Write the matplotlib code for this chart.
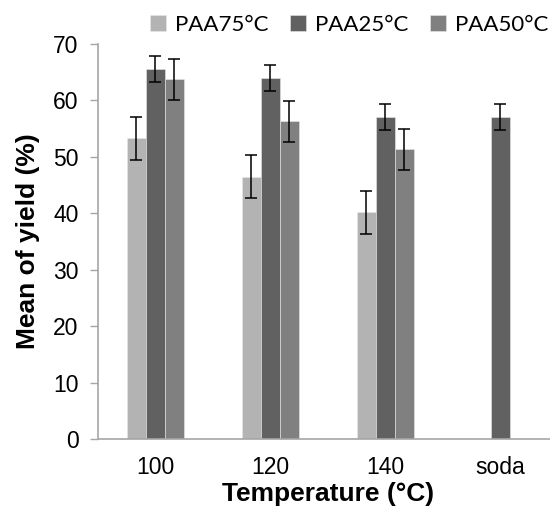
import numpy as np
import matplotlib.pyplot as plt

# data
categories = ['100', '120', '140', 'soda']
series = ['PAA75°C', 'PAA25°C', 'PAA50°C']
paa75 = [53.3, 46.5, 40.2, np.nan]
paa75_err = [3.8, 3.8, 3.8, np.nan]
paa25 = [65.5, 64.0, 57.0, 57.0]
paa25_err = [2.3, 2.3, 2.3, 2.3]
paa50 = [63.7, 56.3, 51.3, np.nan]
paa50_err = [3.6, 3.6, 3.6, np.nan]
colors = ['#b3b3b3', '#616161', '#808080']

fig = plt.figure(figsize=(5.5, 5.16), dpi=100)
ax = fig.add_axes([0.178, 0.149, 0.836, 0.766])

x = np.arange(len(categories))
w = 0.165
for i, (vals, errs) in enumerate([(paa75, paa75_err), (paa25, paa25_err), (paa50, paa50_err)]):
    ax.bar(x + (i - 1) * w, vals, w, color=colors[i], label=series[i],
           edgecolor='#e8e8e8', linewidth=0.4,
           yerr=errs, error_kw=dict(ecolor='black', elinewidth=1.1, capsize=4.5, capthick=1.1))

ax.set_xlim(-0.5, 3.5)
ax.set_ylim(0, 70)
ax.set_yticks(range(0, 71, 10))
ax.set_xticks(x)
ax.set_xticklabels(categories)
ax.tick_params(axis='x', length=0, pad=12, labelsize=16.5)
ax.tick_params(axis='y', length=6, width=1, color='#a6a6a6', pad=8, labelsize=16.5)
for lab in ax.get_xticklabels() + ax.get_yticklabels():
    lab.set_family('Liberation Sans')
for s in ['top', 'right']:
    ax.spines[s].set_visible(False)
for s in ['left', 'bottom']:
    ax.spines[s].set_color('#a6a6a6')
    ax.spines[s].set_linewidth(1.2)

ax.set_xlabel('Temperature (°C)', fontsize=19, fontweight='bold', family='Liberation Sans', labelpad=2)
ax.set_ylabel('Mean of yield (%)', fontsize=19, fontweight='bold', family='Liberation Sans', labelpad=9)

fig.legend(loc='center', bbox_to_anchor=(0.635, 0.952), ncol=3, frameon=False,
           prop={'family': 'Lato', 'size': 16}, handlelength=0.7, handleheight=0.7,
           handletextpad=0.4, columnspacing=1.0)

plt.savefig('out.png', dpi=100)
